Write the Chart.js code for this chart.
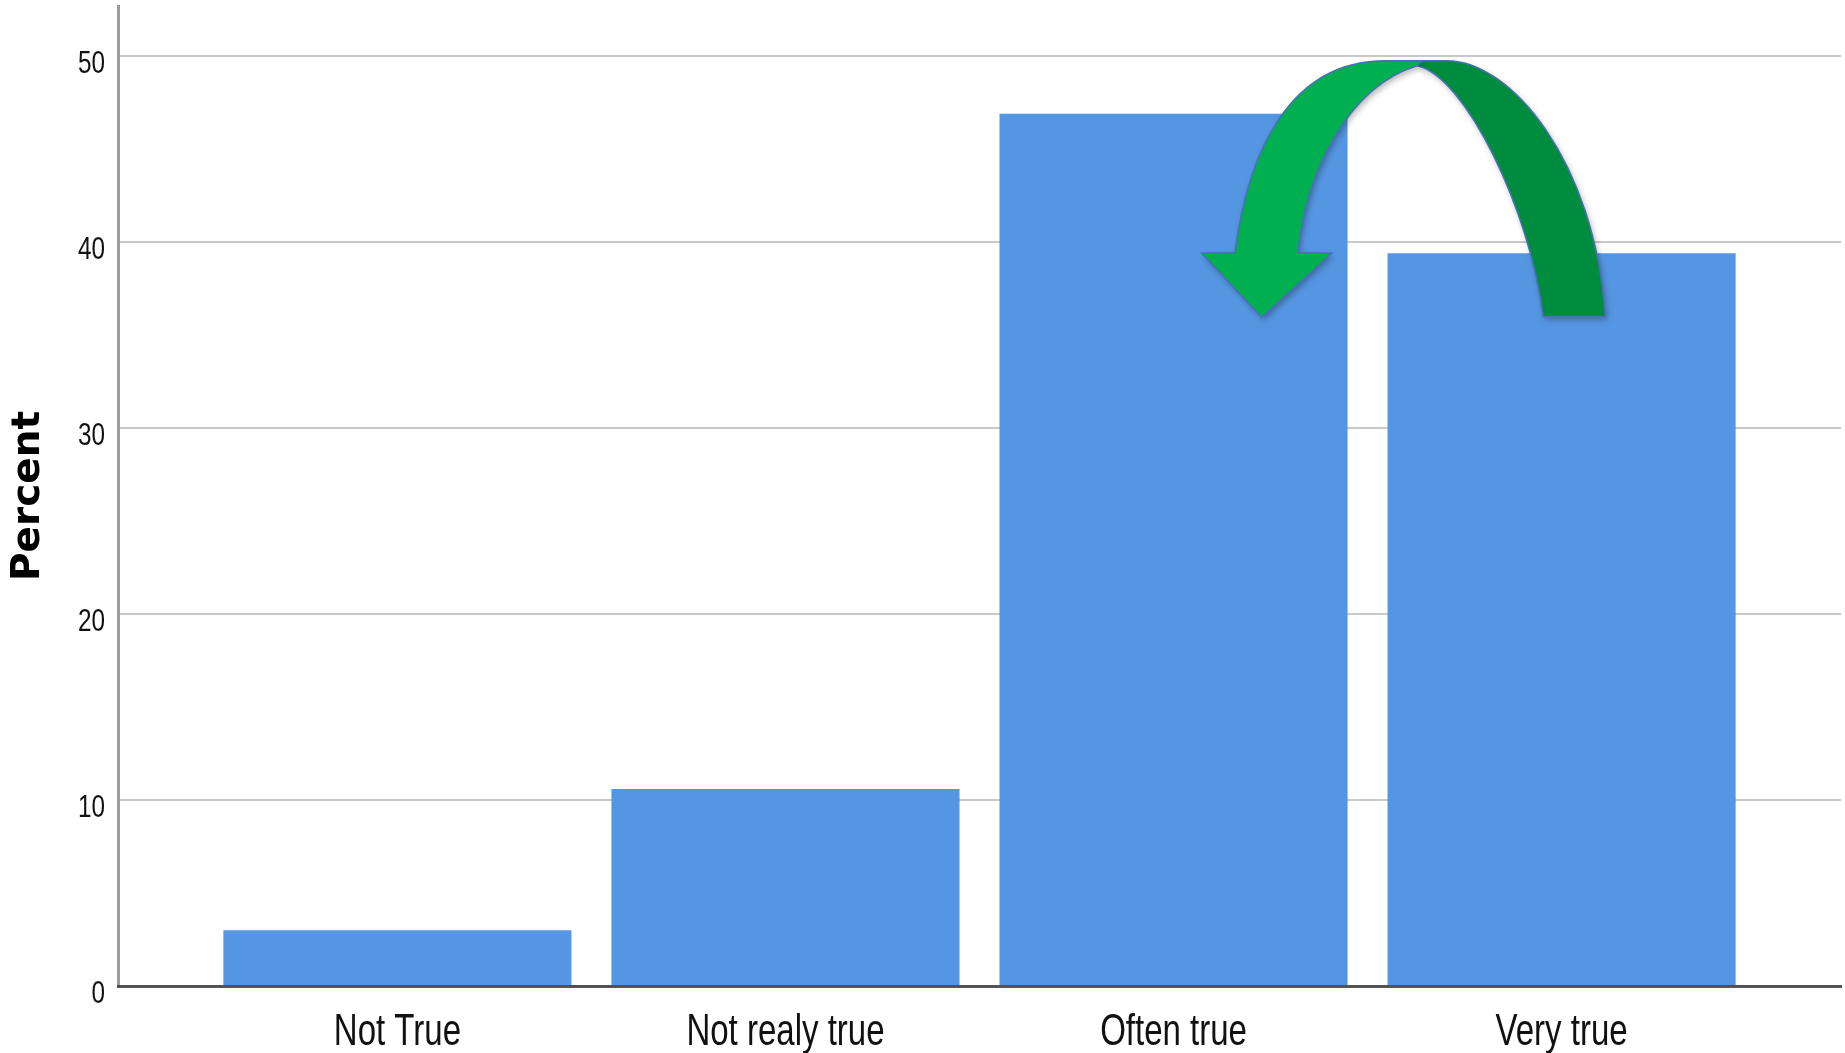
<!DOCTYPE html>
<html>
<head>
<meta charset="utf-8">
<title>Percent</title>
<script src="https://cdn.jsdelivr.net/npm/chart.js@4.4.1/dist/chart.umd.min.js"></script>
<style>
    html, body { margin: 0; padding: 0; background: #ffffff; }
    #wrap { width: 1845px; height: 1053px; }
</style>
</head>
<body>
<div id="wrap"><canvas id="percentChart" width="1845" height="1053"></canvas></div>
<script>
// Answer categories and share of respondents (%)
const categories = ['Not True', 'Not realy true', 'Often true', 'Very true'];
const percentValues = [3.0, 10.6, 46.9, 39.4];
const yTicks = [0, 10, 20, 30, 40, 50];

const labelFont = "'Liberation Sans', Arial, sans-serif";

// Curved arrow from "Very true" back over to "Often true".
// Points are in axis units: x = category index, y = percent.
const arrowBack = [
    ['M', 2.6303, 49.76],
    ['L', 2.7051, 49.76],
    ['C', 2.8675, 49.76, 3.0866, 44.38, 3.1124, 36.00],
    ['L', 2.9526, 36.00],
    ['C', 2.9190, 41.70, 2.7515, 48.95, 2.6277, 49.49],
    ['Z']
];
const arrowFront = [
    ['M', 2.1586, 39.44],
    ['C', 2.1921, 44.92, 2.3003, 49.76, 2.5453, 49.76],
    ['L', 2.6406, 49.76],
    ['L', 2.6277, 49.49],
    ['C', 2.4550, 48.41, 2.3390, 43.85, 2.3210, 39.44],
    ['L', 2.4078, 39.40],
    ['L', 2.2274, 35.96],
    ['L', 2.0727, 39.40],
    ['Z']
];

const curvedArrow = {
    id: 'curvedArrow',
    afterDatasetsDraw(chart) {
        const { ctx } = chart;
        const xs = chart.scales.x;
        const ys = chart.scales.y;
        const px = (u) => xs.getPixelForValue(u);
        const py = (v) => ys.getPixelForValue(v);

        function trace(cmds) {
            ctx.beginPath();
            cmds.forEach(c => {
                if (c[0] === 'M') ctx.moveTo(px(c[1]), py(c[2]));
                else if (c[0] === 'L') ctx.lineTo(px(c[1]), py(c[2]));
                else if (c[0] === 'C') ctx.bezierCurveTo(px(c[1]), py(c[2]), px(c[3]), py(c[4]), px(c[5]), py(c[6]));
                else ctx.closePath();
            });
        }

        function band(cmds, fill) {
            ctx.save();
            ctx.shadowColor = 'rgba(0, 0, 0, 0.3)';
            ctx.shadowBlur = 6;
            ctx.shadowOffsetX = 2;
            ctx.shadowOffsetY = 3;
            trace(cmds);
            ctx.fillStyle = fill;
            ctx.fill();
            ctx.restore();
            ctx.save();
            trace(cmds);
            ctx.lineWidth = 1.5;
            ctx.strokeStyle = '#4a6fb5';
            ctx.stroke();
            ctx.restore();
        }

        band(arrowBack, '#008c3e');
        band(arrowFront, '#00af50');
    }
};

// Tick labels in a horizontally squeezed face (no narrow font is installed)
function squeezedText(ctx, text, x, y, size, sx, align) {
    ctx.save();
    ctx.translate(x, y);
    ctx.scale(sx, 1);
    ctx.font = size + 'px ' + labelFont;
    ctx.fillStyle = '#111111';
    ctx.textAlign = align;
    ctx.textBaseline = 'alphabetic';
    ctx.fillText(text, 0, 0);
    ctx.restore();
}

const narrowTicks = {
    id: 'narrowTicks',
    afterDraw(chart) {
        const { ctx } = chart;
        const xs = chart.scales.x;
        const ys = chart.scales.y;
        categories.forEach((name, i) => {
            squeezedText(ctx, name, xs.getPixelForValue(i), xs.top + 59, 44, 0.75, 'center');
        });
        yTicks.forEach(v => {
            squeezedText(ctx, String(v), ys.right - 13, ys.getPixelForValue(v) + 16.7, 32, 0.76, 'right');
        });
    }
};

new Chart(document.getElementById('percentChart'), {
    type: 'bar',
    data: {
        datasets: [{
            label: 'Percent',
            data: percentValues.map((v, i) => ({ x: i, y: v })),
            backgroundColor: '#5596e3',
            borderWidth: 0,
            categoryPercentage: 1,
            barPercentage: 0.897
        }]
    },
    options: {
        responsive: false,
        animation: false,
        layout: {
            padding: { top: 6, right: 4, left: 0, bottom: 0 }
        },
        plugins: {
            legend: { display: false },
            tooltip: { enabled: false }
        },
        scales: {
            x: {
                type: 'linear',
                offset: false,
                min: -0.72,
                max: 3.72,
                afterBuildTicks: s => { s.ticks = categories.map((_, i) => ({ value: i })); },
                afterFit: s => {
                    s.height = 67;
                    s.paddingLeft = 0;
                    s.paddingRight = 0;
                },
                grid: { display: false, drawTicks: false, offset: false },
                border: { display: true, color: 'rgba(60, 60, 60, 0.85)', width: 3, z: 1 },
                ticks: { display: false }
            },
            y: {
                min: 0,
                max: 52.7,
                afterBuildTicks: s => { s.ticks = yTicks.map(v => ({ value: v })); },
                afterFit: s => {
                    s.width = 118;
                    s.paddingTop = 0;
                    s.paddingBottom = 0;
                },
                grid: { color: '#c8c8c8', lineWidth: 2, drawTicks: false },
                border: { color: '#9c9c9c', width: 3 },
                ticks: { display: false },
                title: {
                    display: true,
                    text: 'Percent',
                    color: '#000000',
                    font: { family: "'DejaVu Sans', sans-serif", size: 39, weight: 'bold' },
                    padding: { top: 5, bottom: 0 }
                }
            }
        }
    },
    plugins: [curvedArrow, narrowTicks]
});
</script>
</body>
</html>
